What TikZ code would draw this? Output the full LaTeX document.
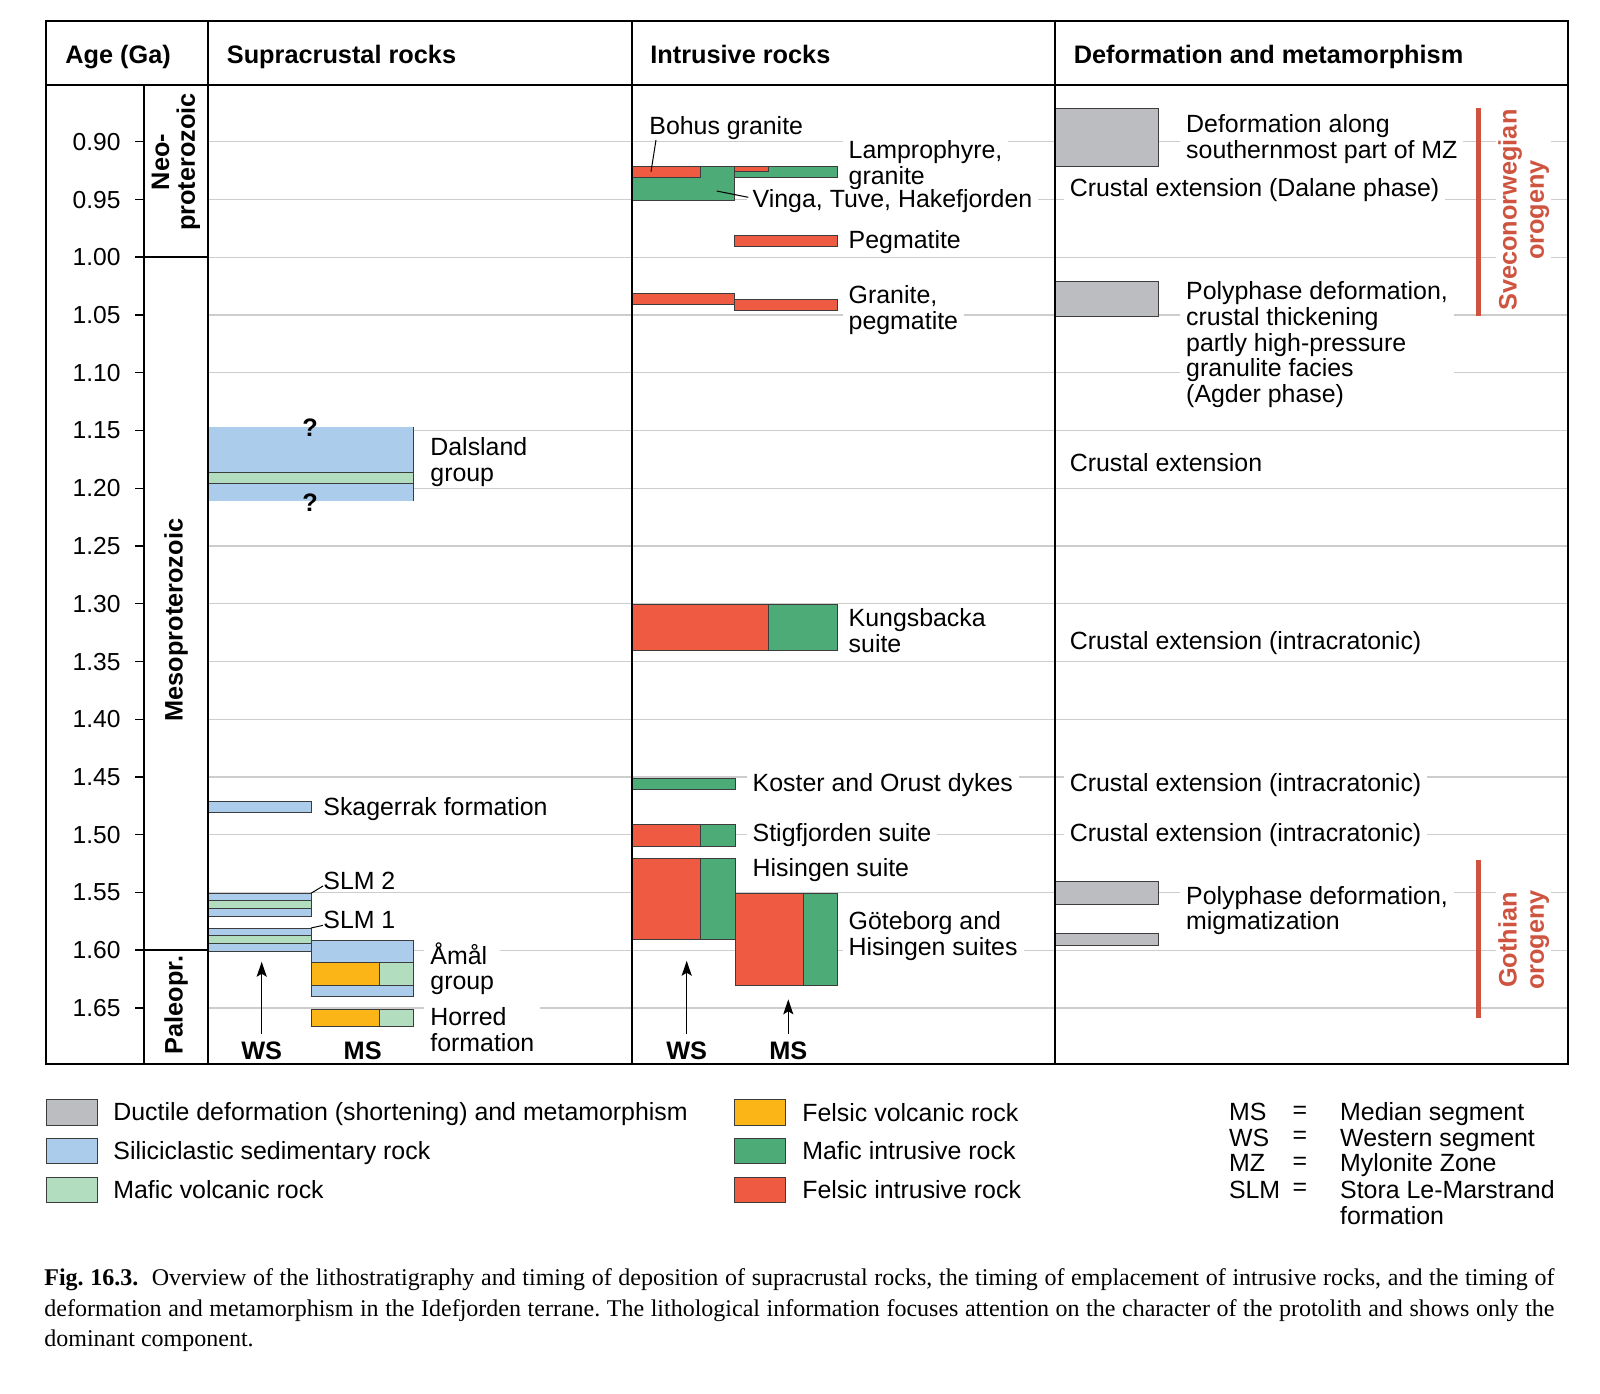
\documentclass[tikz,border=0pt]{standalone}
\usepackage{fontspec}
\setmainfont{Liberation Sans}
\newfontfamily\capfont{Liberation Serif}
\usetikzlibrary{arrows.meta}

\definecolor{defgrey}{RGB}{188,189,192}
\definecolor{sedblue}{RGB}{171,204,235}
\definecolor{mafvol}{RGB}{178,221,190}
\definecolor{felvol}{RGB}{251,181,23}
\definecolor{mafint}{RGB}{77,171,120}
\definecolor{felint}{RGB}{239,90,67}
\definecolor{orored}{RGB}{206,84,64}
\definecolor{gridgrey}{RGB}{205,205,205}
\definecolor{boxedge}{RGB}{60,60,60}

\newcommand\chartfont{\fontsize{12.45}{12.9}\selectfont}
\newcommand\chartbold{\fontsize{12.65}{12.9}\selectfont\bfseries}

\begin{document}
\begin{tikzpicture}[x=0.5pt, y=-0.5pt,
  declare function={ag(\a)=1155*\a-897.7;},
  chartframe/.style={line width=1pt, black},
  gridline/.style={line width=0.6pt, gridgrey},
  box/.style={draw=boxedge, line width=0.5pt},
  lab/.style={anchor=west, fill=white, inner xsep=3pt, inner ysep=0.5pt, align=left, font=\chartfont},
  head/.style={anchor=base west, inner sep=0pt, font=\chartbold},
  era/.style={rotate=90, align=center, font=\chartbold},
  oro/.style={rotate=90, align=center, fill=white, inner sep=1pt, text=orored, font=\fontsize{12.65}{13.6}\selectfont\bfseries},
  seg/.style={font=\chartbold},
  lead/.style={line width=0.5pt, black},
  arr/.style={line width=0.7pt, -{Stealth[length=7.5pt, width=5pt, inset=1.5pt]}},
  swatch/.style={draw=boxedge, line width=0.5pt, minimum width=25.5pt, minimum height=12.8pt, inner sep=0pt},
  leg/.style={anchor=west, inner sep=0pt, font=\chartfont},
]
\useasboundingbox (0,0) rectangle (1600,1393);

% age scale and grid
\foreach \a [count=\i] in {0.90,0.95,1.00,1.05,1.10,1.15,1.20,1.25,1.30,1.35,1.40,1.45,1.50,1.55,1.60,1.65} {
  \draw[gridline] (208,{ag(\a)}) -- (1568,{ag(\a)});
  \draw[line width=0.6pt] (135,{ag(\a)}) -- (144,{ag(\a)});
  \node[anchor=east, inner sep=0pt, font=\fontsize{12.3}{12.9}\selectfont] (age\i) at (121,{ag(\a)}) {\a};
}

% supracrustal rocks
\fill[sedblue] (208,426.7) rectangle (413.3,500.7);
\draw[box] (413.3,426.7) -- (413.3,500.7);
\draw[box, fill=mafvol] (208,472.7) rectangle (413.3,483.3);
\node[seg] (qtop) at (310,428) {?};
\node[seg] (qbot) at (310,503) {?};
\draw[box, fill=sedblue] (208,801) rectangle (311,812.7);
\draw[box, fill=sedblue] (208,893.3) rectangle (311,900.7);
\draw[box, fill=mafvol] (208,900.7) rectangle (311,908.7);
\draw[box, fill=sedblue] (208,908.7) rectangle (311,916);
\draw[box, fill=sedblue] (208,928) rectangle (311,935);
\draw[box, fill=mafvol] (208,935) rectangle (311,943.3);
\draw[box, fill=sedblue] (208,943.3) rectangle (311,951);
\draw[box, fill=sedblue] (311,940) rectangle (413.3,962.7);
\draw[box, fill=felvol] (311,962.7) rectangle (379.3,985.3);
\draw[box, fill=mafvol] (379.3,962.7) rectangle (413.3,985.3);
\draw[box, fill=sedblue] (311,985.3) rectangle (413.3,996.7);
\draw[box, fill=felvol] (311,1009) rectangle (379.3,1026);
\draw[box, fill=mafvol] (379.3,1009) rectangle (413.3,1026);

\node[lab, inner ysep=0pt] (dals) at (424,462) {Dalsland\\group};
\node[lab] (skag) at (317,809) {Skagerrak formation};
\node[lab] (slm2) at (317,881) {SLM 2};
\node[lab] (slm1) at (317,920.3) {SLM 1};
\node[lab] (amal) at (424,968.8) {Åmål\\group};
\node[lab] (horr) at (424,1029.2) {Horred\\formation};
\coordinate (slm2c) at (311,893.3);
\coordinate (slm1c) at (311,928);
\draw[lead] (slm2c) -- ([shift={(6,5)}]slm2.west);
\draw[lead] (slm1c) -- ([shift={(6,5)}]slm1.west);

\node[seg] (wsa) at (261.7,1050.3) {WS};
\node[seg] (msa) at (362.7,1050.3) {MS};
\coordinate (wsatip) at (261.7,961.7);
\draw[arr] (wsa.north) -- (wsatip);

% intrusive rocks
\draw[box, fill=mafint] (631.7,166.7) rectangle (734.3,200);
\draw[box, fill=felint] (631.7,166.7) rectangle (700,177.3);
\draw[box, fill=mafint] (734.3,166.7) rectangle (837.3,177.3);
\draw[box, fill=felint] (734.3,166.7) rectangle (768.3,171.3);
\draw[box, fill=felint] (734.3,235.7) rectangle (837.3,246.7);
\draw[box, fill=felint] (631.7,293.3) rectangle (734.3,304.3);
\draw[box, fill=felint] (734.3,299.3) rectangle (837.3,310);
\draw[box, fill=felint] (631.7,604) rectangle (768.4,650);
\draw[box, fill=mafint] (768.4,604) rectangle (837.3,650);
\draw[box, fill=mafint] (631.7,778.3) rectangle (735,789.3);
\draw[box, fill=felint] (631.7,824) rectangle (700.7,846.7);
\draw[box, fill=mafint] (700.7,824) rectangle (735,846.7);
\draw[box, fill=felint] (631.7,858.7) rectangle (700.7,939.3);
\draw[box, fill=mafint] (700.7,858.7) rectangle (735,939.3);
\draw[box, fill=felint] (735,893.3) rectangle (803.3,985.7);
\draw[box, fill=mafint] (803.3,893.3) rectangle (837.3,985.7);

\node[lab] (bohus) at (643,128) {Bohus granite};
\node[lab] (lamp) at (842.3,165) {Lamprophyre,\\granite};
\node[lab] (vinga) at (746.3,201.3) {Vinga, Tuve, Hakefjorden};
\node[lab] (pegm) at (842.3,242) {Pegmatite};
\node[lab] (gran) at (842.3,310) {Granite,\\pegmatite};
\node[lab] (kung) at (842.3,630.7) {Kungsbacka\\suite};
\node[lab] (kost) at (746.3,785.3) {Koster and Orust dykes};
\node[lab] (stig) at (746.3,835.5) {Stigfjorden suite};
\node[lab] (hisi) at (746.3,870.3) {Hisingen suite};
\node[lab] (gote) at (842.3,936) {Göteborg and\\Hisingen suites};
\coordinate (bohusc) at (651,171.7);
\coordinate (vingac) at (716.7,191);
\draw[lead] ([shift={(13,12)}]bohus.west) -- (bohusc);
\draw[lead] (vingac) -- ([shift={(2,-4)}]vinga.west);

\node[seg] (wsb) at (686.7,1050.3) {WS};
\node[seg] (msb) at (788.3,1050.3) {MS};
\coordinate (wsbtip) at (686.7,960.7);
\coordinate (msbtip) at (788.3,999.3);
\draw[arr] (wsb.north) -- (wsbtip);
\draw[arr] (msb.north) -- (msbtip);

% deformation and metamorphism
\draw[box, fill=defgrey] (1055,108.3) rectangle (1158.7,166);
\draw[box, fill=defgrey] (1055,281.7) rectangle (1158.7,316);
\draw[box, fill=defgrey] (1055,881.7) rectangle (1158.7,904.3);
\draw[box, fill=defgrey] (1055,933.3) rectangle (1158.7,945.7);

\node[lab] (defmz) at (1179.8,139.2) {Deformation along\\southernmost part of MZ};
\node[lab] (dalane) at (1063.4,190.3) {Crustal extension (Dalane phase)};
\node[lab] (agder) at (1179.8,344.7) {Polyphase deformation,\\crustal thickening\\partly high-pressure\\granulite facies\\(Agder phase)};
\node[lab] (ext1) at (1063.4,462.2) {Crustal extension};
\node[lab] (ext2) at (1063.4,642.8) {Crustal extension (intracratonic)};
\node[lab] (ext3) at (1063.4,784.7) {Crustal extension (intracratonic)};
\node[lab] (ext4) at (1063.4,834.7) {Crustal extension (intracratonic)};
\node[lab] (migm) at (1179.8,910.5) {Polyphase deformation,\\migmatization};

\draw[orored, line width=2.6pt] (1478.6,108.3) -- (1478.6,316);
\draw[orored, line width=2.6pt] (1478.6,859.5) -- (1478.6,1018.4);
\node[oro] (sveco) at (1523.8,210) {Sveconorwegian\\orogeny};
\node[oro] (goth) at (1523.8,940) {Gothian\\orogeny};

% frame
\draw[chartframe] (46,21.4) rectangle (1568,1064);
\draw[chartframe] (46,84.7) -- (1568,84.7);
\draw[chartframe] (208,21.4) -- (208,1064);
\draw[chartframe] (631.7,21.4) -- (631.7,1064);
\draw[chartframe] (1055,21.4) -- (1055,1064);
\draw[chartframe] (144,84.7) -- (144,1064);
\draw[chartframe] (135,{ag(1.00)}) -- (208,{ag(1.00)});
\draw[chartframe] (135,{ag(1.60)}) -- (208,{ag(1.60)});

\node[head] (hage) at (65,63) {Age (Ga)};
\node[head] (hsup) at (226.5,63) {Supracrustal rocks};
\node[head] (hint) at (650,63) {Intrusive rocks};
\node[head] (hdef) at (1073.5,63) {Deformation and metamorphism};

\node[era] (neo) at (176,162) {Neo-\\proterozoic};
\node[era] (meso) at (176,620) {Mesoproterozoic};
\node[era] (paleo) at (176,1005) {Paleopr.};

% legend
\node[swatch, fill=defgrey] (sw1) at (71.5,1112.3) {};
\node[swatch, fill=sedblue] (sw2) at (71.5,1151) {};
\node[swatch, fill=mafvol] (sw3) at (71.5,1189.8) {};
\node[swatch, fill=felvol] (sw4) at (760.2,1112.3) {};
\node[swatch, fill=mafint] (sw5) at (760.2,1151) {};
\node[swatch, fill=felint] (sw6) at (760.2,1189.8) {};
\node[leg] (lg1) at (113,1114.5) {Ductile deformation (shortening) and metamorphism};
\node[leg] (lg2) at (113,1153) {Siliciclastic sedimentary rock};
\node[leg] (lg3) at (113,1189.8) {Mafic volcanic rock};
\node[leg] (lg4) at (802,1112.3) {Felsic volcanic rock};
\node[leg] (lg5) at (802,1151) {Mafic intrusive rock};
\node[leg] (lg6) at (802,1189.8) {Felsic intrusive rock};

\node[leg] (ab1) at (1228.6,1112.3) {MS};
\node[leg] (ab2) at (1228.6,1137.8) {WS};
\node[leg] (ab3) at (1228.6,1163.3) {MZ};
\node[leg] (ab4) at (1228.6,1189.8) {SLM};
\node[font=\chartfont, inner sep=0pt] (eq1) at (1300,1112.3) {=};
\node[font=\chartfont, inner sep=0pt] (eq2) at (1300,1137.8) {=};
\node[font=\chartfont, inner sep=0pt] (eq3) at (1300,1163.3) {=};
\node[font=\chartfont, inner sep=0pt] (eq4) at (1300,1189.8) {=};
\node[leg] (mn1) at (1339.8,1114.5) {Median segment};
\node[leg] (mn2) at (1339.8,1140.8) {Western segment};
\node[leg] (mn3) at (1339.8,1165.5) {Mylonite Zone};
\node[leg, align=left, anchor=north west] (mn4) at (1339.8,1180) {Stora Le-Marstrand\\formation};

% caption
\node[anchor=north west, inner sep=0pt, text width=755pt, align=justify,
  font=\capfont\fontsize{12.0}{15.4}\selectfont\frenchspacing] (cap) at (44,1268)
  {\textbf{Fig.~16.3.}\ \ Overview of the lithostratigraphy and timing of deposition of supracrustal rocks, the timing of emplacement of intrusive rocks, and the timing of\linebreak deformation and metamorphism in the Idefjorden terrane. The lithological information focuses attention on the character of the protolith and shows only the\linebreak dominant component.};
\end{tikzpicture}
\end{document}
